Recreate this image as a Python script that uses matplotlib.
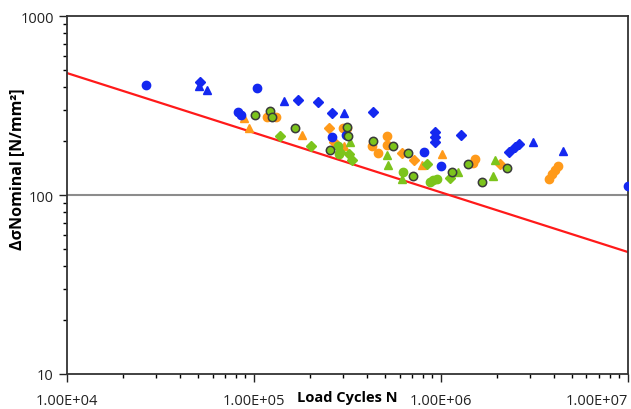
import matplotlib.pyplot as plt
from matplotlib.ticker import LogLocator, NullFormatter, FixedLocator

plt.rcParams['font.family'] = ['Open Sans', 'DejaVu Sans']

# blue series
blue_circ_n = [26400, 103800, 82000, 85100, 261000, 310000, 811000, 1.0e6, 1.0e7]
blue_circ_s = [412, 396, 291, 280, 211, 216, 174, 145, 112]
blue_dia_n = [51400, 172000, 220000, 261000, 433000, 929000, 929000, 929000, 1.28e6, 2.31e6, 2.49e6, 2.61e6]
blue_dia_s = [428, 340, 331, 287, 291, 225, 210, 198, 216, 174, 185, 193]
blue_tri_n = [50800, 56100, 145000, 303000, 3.10e6, 4.49e6]
blue_tri_s = [406, 386, 335, 287, 198, 176]

# orange series
orange_circ_n = [117000, 131000, 299000, 314000, 514000, 514000, 427000, 461000, 1.52e6, 1.48e6,
                 3.78e6, 3.93e6, 4.07e6, 4.23e6]
orange_circ_s = [273, 273, 237, 237, 214, 190, 188, 172, 159, 151, 123, 131, 138, 145]
orange_dia_n = [252000, 268000, 618000, 718000, 2.07e6]
orange_dia_s = [237, 198, 172, 157, 149]
orange_tri_n = [88500, 94000, 181000, 303000, 1.01e6, 791000]
orange_tri_s = [269, 237, 216, 188, 169, 147]

# green series
green_dia_n = [138000, 202000, 322000, 334000, 841000, 1.12e6, 289000]
green_dia_s = [214, 188, 169, 157, 149, 124, 174]
green_tri_n = [326000, 514000, 521000, 618000, 1.23e6, 1.95e6, 1.90e6]
green_tri_s = [198, 167, 147, 123, 134, 157, 128]
green_circ_n = [281000, 285000, 627000, 873000, 953000, 906000]
green_circ_s = [188, 169, 134, 118, 123, 121]
green_ring_n = [101000, 122000, 125000, 166000, 255000, 314000, 318000, 433000, 553000, 667000,
                708000, 1.15e6, 1.39e6, 2.25e6, 1.66e6]
green_ring_s = [280, 294, 273, 237, 178, 240, 214, 200, 188, 172, 128, 134, 149, 142, 118]

# S-N design line
line_n = [1e4, 1e7]
line_s = [480, 48]

x_ticks = [1e4, 1e5, 1e6, 1e7]
x_labels = ['1.00E+04', '1.00E+05', '1.00E+06', '1.00E+07']
y_ticks = [10, 100, 1000]
y_labels = ['10', '100', '1000']

blue = '#1428F0'
orange = '#FF9A1A'
green = '#7CC41C'

fig = plt.figure(figsize=(6.31, 4.10), dpi=100)
ax = fig.add_axes([0.1062, 0.0854, 0.8890, 0.8731])

ax.axhline(100, color='#8c8c8c', lw=1.5, zorder=1)
ax.plot(line_n, line_s, color='#FF1A1A', lw=1.6, zorder=2)

ms = 6
ax.plot(orange_circ_n, orange_circ_s, 'o', color=orange, ms=ms, mec=orange, zorder=3)
ax.plot(orange_dia_n, orange_dia_s, 'D', color=orange, ms=5, mec=orange, zorder=3)
ax.plot(orange_tri_n, orange_tri_s, '^', color=orange, ms=ms, mec=orange, zorder=3)
ax.plot(green_circ_n, green_circ_s, 'o', color=green, ms=ms, mec=green, zorder=4)
ax.plot(green_dia_n, green_dia_s, 'D', color=green, ms=5, mec=green, zorder=4)
ax.plot(green_tri_n, green_tri_s, '^', color=green, ms=ms, mec=green, zorder=4)
ax.plot(blue_circ_n, blue_circ_s, 'o', color=blue, ms=ms, mec=blue, zorder=4)
ax.plot(blue_dia_n, blue_dia_s, 'D', color=blue, ms=5, mec=blue, zorder=4)
ax.plot(blue_tri_n, blue_tri_s, '^', color=blue, ms=ms, mec=blue, zorder=4)
ax.plot(green_ring_n, green_ring_s, 'o', color=green, ms=6, mec='#3a3a3a', mew=1.1, zorder=5)

ax.set_xscale('log')
ax.set_yscale('log')
ax.set_xlim(1e4, 1e7)
ax.set_ylim(10, 1000)

ax.xaxis.set_major_locator(FixedLocator(x_ticks))
ax.set_xticklabels(x_labels)
ax.xaxis.set_minor_locator(LogLocator(base=10, subs=range(2, 10)))
ax.xaxis.set_minor_formatter(NullFormatter())
ax.yaxis.set_major_locator(FixedLocator(y_ticks))
ax.set_yticklabels(y_labels)
ax.yaxis.set_minor_locator(LogLocator(base=10, subs=range(2, 10)))
ax.yaxis.set_minor_formatter(NullFormatter())

ax.tick_params(which='major', direction='out', length=6, width=1, labelsize=10.5, colors='#222222')
ax.tick_params(which='minor', direction='out', length=3, width=1)
ax.tick_params(axis='x', pad=8)
# last label would run off the right edge
ax.get_xticklabels()[-1].set_ha('right')
for sp in ax.spines.values():
    sp.set_color('#333333')
    sp.set_linewidth(1.3)

ax.set_xlabel('Load Cycles N', fontsize=10.5, fontweight='bold')
ax.xaxis.set_label_coords(0.5, -0.045)
ax.set_ylabel('\u0394\u03c3Nominal [N/mm\u00b2]', fontsize=11.5, fontweight='bold')
ax.yaxis.set_label_coords(-0.075, 0.575)

fig.savefig('out.png', dpi=100)
